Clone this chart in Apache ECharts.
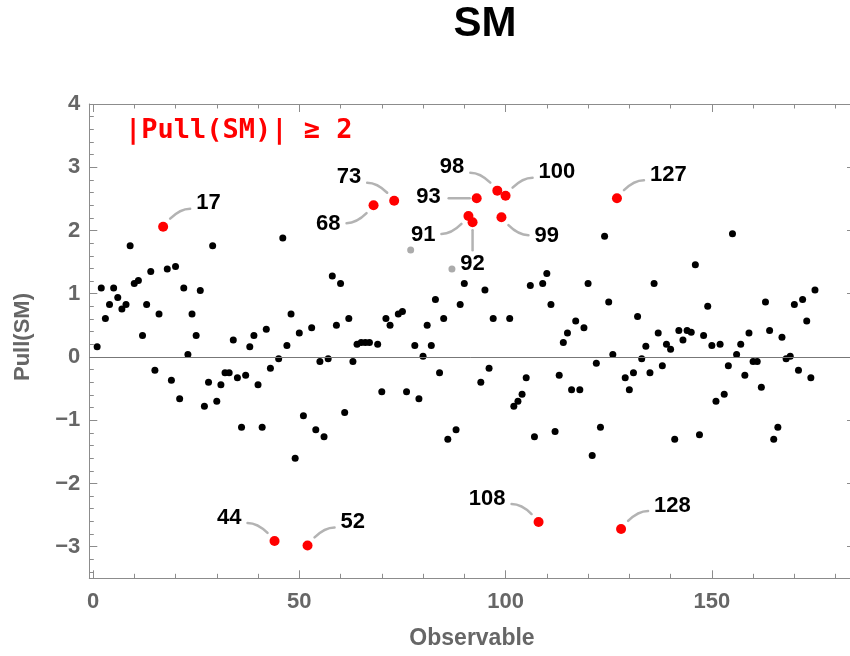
<!DOCTYPE html>
<html><head><meta charset="utf-8">
<script src="https://cdn.jsdelivr.net/npm/echarts@6/dist/echarts.min.js"></script>
<style>html,body{margin:0;padding:0;background:#fff}#c{width:850px;height:656px}</style>
</head><body><div id="c"></div>
<script>
// Pull(SM) for observables 1..175
const pulls = [
  0.16, 1.09, 0.61, 0.83, 1.09, 0.94, 0.76, 0.83, 1.76, 1.16,
  1.21, 0.34, 0.83, 1.35, -0.21, 0.68, 2.06, 1.39, -0.37, 1.43,
  -0.66, 1.09, 0.04, 0.68, 0.34, 1.05, -0.78, -0.40, 1.76, -0.70,
  -0.44, -0.25, -0.25, 0.27, -0.33, -1.11, -0.29, 0.16, 0.34, -0.44,
  -1.11, 0.44, -0.18, -2.91, -0.03, 1.88, 0.18, 0.68, -1.60, 0.38,
  -0.93, -2.98, 0.46, -1.15, -0.07, -1.26, -0.03, 1.28, 0.50, 1.16,
  -0.88, 0.61, -0.07, 0.20, 0.23, 0.23, 0.23, 2.40, 0.20, -0.55,
  0.61, 0.50, 2.47, 0.68, 0.72, -0.55, 1.69, 0.18, -0.66, 0.01,
  0.50, 0.18, 0.91, -0.25, 0.61, -1.30, 1.39, -1.15, 0.83, 1.16,
  2.23, 2.13, 2.51, -0.40, 1.06, -0.18, 0.61, 2.63, 2.21, 2.55,
  0.61, -0.78, -0.70, -0.59, -0.33, 1.13, -1.26, -2.61, 1.16, 1.32,
  0.83, -1.18, -0.29, 0.23, 0.38, -0.52, 0.57, -0.52, 0.46, 1.16,
  -1.56, -0.10, -1.11, 1.91, 0.87, 0.04, 2.51, -2.72, -0.33, -0.52,
  -0.25, 0.64, -0.03, 0.17, -0.25, 1.16, 0.38, -0.14, 0.20, 0.12,
  -1.30, 0.42, 0.27, 0.42, 0.39, 1.46, -1.23, 0.34, 0.80, 0.18,
  -0.70, 0.20, -0.59, -0.14, 1.95, 0.04, 0.20, -0.29, 0.38, -0.07,
  -0.07, -0.48, 0.87, 0.42, -1.30, -1.11, 0.31, -0.03, 0.01, 0.83,
  -0.21, 0.91, 0.57, -0.33, 1.06
];
const xMajorTicks = [0, 50, 100, 150];
const xMinorTicks = [10, 20, 30, 40, 60, 70, 80, 90, 110, 120, 130, 140, 160, 170, 180];
const yMajorTicks = [-3, -2, -1, 0, 1, 2, 3, 4];
const yMinorTicks = [-3.4, -3.2, -2.8, -2.6, -2.4, -2.2, -1.8, -1.6, -1.4, -1.2, -0.8, -0.6, -0.4, -0.2,
  0.2, 0.4, 0.6, 0.8, 1.2, 1.4, 1.6, 1.8, 2.2, 2.4, 2.6, 2.8, 3.2, 3.4, 3.6, 3.8];
const fadedObs = [77, 87];
const threshold = 2;
const titleText = 'SM';
const xTitle = 'Observable';
const yTitle = 'Pull(SM)';
const noteText = '|Pull(SM)| \u2265 2';

// callout directions (layout only)
const calloutDir = {17:[1,-1], 44:[-1,-1], 52:[1,-1], 68:[-1,1], 73:[-1,-1], 91:[-1,1], 92:[0,1],
  93:[-1,0], 98:[-1,-1], 99:[1,1], 100:[1,-1], 108:[-1,-1], 127:[1,-1], 128:[1,-1]};

const pts = pulls.map((v, i) => [i + 1, v]);
const flagged = pts.filter(d => Math.abs(d[1]) >= threshold);
const faded = pts.filter(d => Math.abs(d[1]) < threshold && fadedObs.includes(d[0]));
const normal = pts.filter(d => Math.abs(d[1]) < threshold && !fadedObs.includes(d[0]));

const FRAME = '#8c8c8c';
const LABEL = '#666666';
const FONT = '"Liberation Sans", Arial, sans-serif';
const XMIN = -0.9, XMAX = 184.7, YMIN = -3.5, YMAX = 4;
const minus = v => (v < 0 ? '\u2212' + (-v) : String(v));

function xAx(pos, ticks, len, showLine, labels) {
  return {
    type: 'value', position: pos, min: XMIN, max: XMAX, gridIndex: 0,
    axisLine: { show: showLine, onZero: false, lineStyle: { color: FRAME, width: 1 } },
    axisTick: { show: true, inside: true, length: len, customValues: ticks, lineStyle: { color: FRAME, width: 1 } },
    axisLabel: labels ? { show: true, customValues: ticks, margin: 13, color: LABEL, fontSize: 22, fontWeight: 'bold', fontFamily: FONT } : { show: false },
    splitLine: { show: false }, minorTick: { show: false }
  };
}
function yAx(pos, ticks, len, showLine, labels) {
  return {
    type: 'value', position: pos, min: YMIN, max: YMAX, gridIndex: 0,
    axisLine: { show: showLine, onZero: false, lineStyle: { color: FRAME, width: 1 } },
    axisTick: { show: true, inside: true, length: len, customValues: ticks, lineStyle: { color: FRAME, width: 1 } },
    axisLabel: labels ? { show: true, customValues: ticks, margin: 9, color: LABEL, fontSize: 22, fontWeight: 'bold', fontFamily: FONT, formatter: minus } : { show: false },
    splitLine: { show: false }, minorTick: { show: false }
  };
}

const chart = echarts.init(document.getElementById('c'), null, { renderer: 'canvas' });
chart.setOption({
  animation: false,
  backgroundColor: '#fff',
  grid: { left: 89.3, right: -5, top: 104, bottom: 77.7, containLabel: false, outerBoundsMode: 'none' },
  xAxis: [
    xAx('bottom', xMajorTicks, 8, true, true),
    xAx('bottom', xMinorTicks, 4.5, false, false),
    xAx('top', xMajorTicks, 8, true, false),
    xAx('top', xMinorTicks, 4.5, false, false)
  ],
  yAxis: [
    yAx('left', yMajorTicks, 8, true, true),
    yAx('left', yMinorTicks, 4.5, false, false),
    yAx('right', yMajorTicks, 8, true, false)
  ],
  graphic: [
    { type: 'text', x: 485, y: 24, style: { text: titleText, fill: '#000', font: 'bold 42px ' + FONT, align: 'center', verticalAlign: 'middle' } },
    { type: 'text', x: 125, y: 131, style: { text: noteText, fill: '#ff0000', font: 'bold 27px "DejaVu Sans Mono", monospace', align: 'left', verticalAlign: 'middle' } },
    { type: 'text', x: 472, y: 639, style: { text: xTitle, fill: LABEL, font: 'bold 23px ' + FONT, align: 'center', verticalAlign: 'middle' } },
    { type: 'text', x: 23, y: 337, rotation: Math.PI / 2, style: { text: yTitle, fill: LABEL, font: 'bold 22px ' + FONT, align: 'center', verticalAlign: 'middle' } }
  ],
  series: [
    {
      type: 'scatter', xAxisIndex: 0, yAxisIndex: 0, data: normal, symbolSize: 7,
      itemStyle: { color: '#000', opacity: 1 }, silent: true, z: 2,
      markLine: { silent: true, symbol: ['none', 'none'], label: { show: false },
        lineStyle: { color: '#777', width: 1, type: 'solid', opacity: 1 }, data: [{ yAxis: 0 }], animation: false }
    },
    { type: 'scatter', xAxisIndex: 0, yAxisIndex: 0, data: faded, symbolSize: 7, itemStyle: { color: '#ababab', opacity: 1 }, silent: true, z: 2 },
    {
      type: 'custom', xAxisIndex: 0, yAxisIndex: 0, data: flagged, z: 3, silent: true,
      renderItem: function (params, api) {
        const obs = api.value(0), v = api.value(1);
        const p = api.coord([obs, v]);
        const d = calloutDir[obs] || [1, -1];
        const sx = d[0], sy = d[1];
        const ls = { stroke: '#b3b3b3', lineWidth: 2.5, fill: null, lineCap: 'round' };
        let line, tx, ty, align;
        if (sx !== 0 && sy !== 0) {
          line = { type: 'bezierCurve', shape: { x1: p[0] + 7 * sx, y1: p[1] + 8 * sy, cpx1: p[0] + 17 * sx, cpy1: p[1] + 18 * sy, x2: p[0] + 27 * sx, y2: p[1] + 18 * sy }, style: ls };
          tx = p[0] + 33 * sx; ty = p[1] + (sy < 0 ? -23.5 : 19); align = sx > 0 ? 'left' : 'right';
        } else if (sy === 0) {
          line = { type: 'line', shape: { x1: p[0] + 7 * sx, y1: p[1], x2: p[0] + 28 * sx, y2: p[1] }, style: ls };
          tx = p[0] + 36 * sx; ty = p[1] - 1; align = sx > 0 ? 'left' : 'right';
        } else {
          line = { type: 'line', shape: { x1: p[0], y1: p[1] + 8 * sy, x2: p[0], y2: p[1] + 28 * sy }, style: ls };
          tx = p[0]; ty = p[1] + 42 * sy; align = 'center';
        }
        return { type: 'group', children: [line, {
          type: 'text', x: tx, y: ty,
          style: { text: String(obs), fill: '#000', font: 'bold 22px ' + FONT, align: align, verticalAlign: 'middle' }
        }] };
      }
    },
    { type: 'scatter', xAxisIndex: 0, yAxisIndex: 0, data: flagged, symbolSize: 10, itemStyle: { color: '#ff0000', opacity: 1 }, silent: true, z: 4 }
  ]
});
</script></body></html>
